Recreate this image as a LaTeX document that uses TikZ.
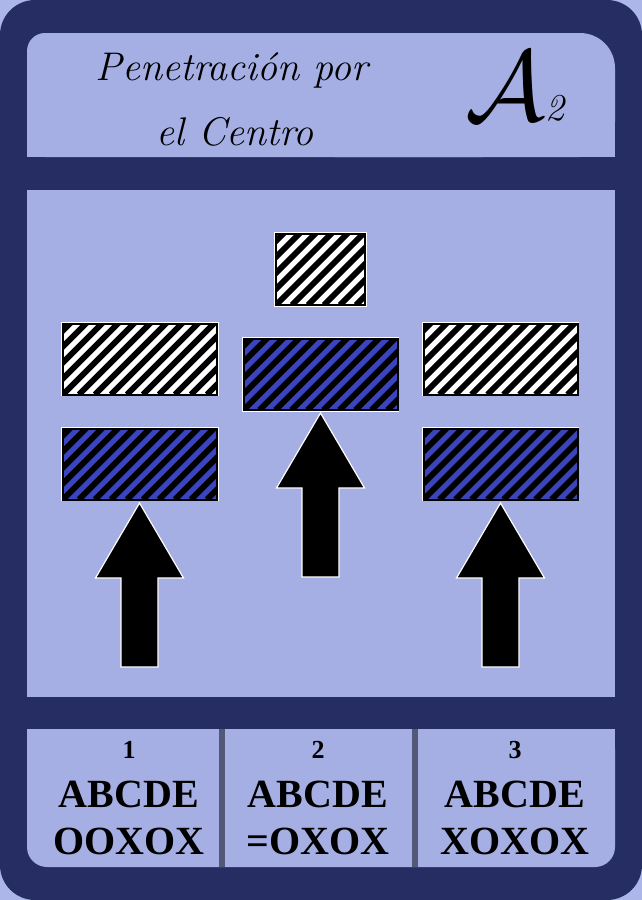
\documentclass[tikz,border=0pt]{standalone}
\usepackage{fontspec}
\usepackage{tikz}
\usetikzlibrary{positioning,calc}
\newfontfamily\cardfont{Liberation Serif}
\definecolor{cardnavy}{RGB}{38,45,98}
\definecolor{cardlight}{RGB}{172,182,232}
\definecolor{panelblue}{RGB}{165,175,228}
\definecolor{sepgray}{RGB}{84,88,120}
\definecolor{stripeblue}{RGB}{58,68,190}

\begin{document}
\begin{tikzpicture}[
    x=1pt, y=-1pt,
    hatch/.style={draw=black, line width=2pt, inner sep=0pt,
        preaction={draw=white, line width=3.6pt},
        path picture={\foreach \i in {-6,...,11}
            \draw[black, line width=5.8pt]
              ([xshift=\i*16pt]path picture bounding box.south west) -- ++(100pt,100pt);}},
    whitehatch/.style={hatch, fill=white},
    bluehatch/.style={hatch, fill=stripeblue},
    wide/.style={minimum width=154pt, minimum height=71pt},
    title/.style={font=\fontsize{40}{48}\selectfont\itshape, inner sep=0pt, anchor=base},
    num/.style={font=\cardfont\bfseries\fontsize{26}{26}\selectfont, inner sep=0pt, anchor=base},
    letters/.style={font=\cardfont\bfseries\fontsize{40}{40}\selectfont, inner sep=0pt, anchor=base},
    bigarrow/.pic={\draw[draw=white, line width=1.2pt, fill=black, line join=miter]
        (-18.5,0) -- (-18.5,-89) -- (-44,-89) -- (0,-164) -- (44,-89)
        -- (18.5,-89) -- (18.5,0) -- cycle;}
]
\useasboundingbox (0,0) rectangle (642,900);
% card frame
\fill[cardlight] (0,0) rectangle (642,900);
\fill[cardnavy, rounded corners=35] (0,0) rectangle (642,900);
% title panel
\fill[panelblue, rounded corners=18] (27,33) rectangle (500,157);
\fill[panelblue, rounded corners=35] (300,33) rectangle (615,157);
\fill[panelblue] (27,100) rectangle (615,157);
% field
\fill[panelblue] (27,190) rectangle (615,697);
% bottom cells
\fill[panelblue, rounded corners=20] (27,729) rectangle (615,867);
\fill[panelblue] (27,729) rectangle (615,800);
\fill[sepgray] (219,729) rectangle (225,867);
\fill[sepgray] (412,729) rectangle (418,867);

\node[title] (title1) at (232,80) {Penetración por};
\node[title] (title2) at (235,145) {el Centro};
\node[anchor=base, inner sep=0pt] (code) at (515,120)
    {\scalebox{10}{$\mathcal{A}$}\kern1pt{\fontsize{38}{38}\selectfont\itshape 2}};

\node[whitehatch, minimum width=89pt, minimum height=71pt] (topW) at (320.5,269.5) {};
\node[bluehatch, wide, below=32pt of topW] (midB) {};
\node[whitehatch, wide] (leftW) at (140,359) {};
\node[bluehatch, wide, below=32pt of leftW] (leftB) {};
\node[whitehatch, wide] (rightW) at (500.5,359) {};
\node[bluehatch, wide, below=32pt of rightW] (rightB) {};

\pic at (139.5,667) {bigarrow};
\pic at (320.5,577) {bigarrow};
\pic at (500.5,667) {bigarrow};

\foreach \cx/\dig/\seq [count=\k] in {129/1/{OOXOX}, 318/2/{=OXOX}, 515/3/{XOXOX}} {
  \node[num] (num\k) at (\cx,758) {\dig};
  \node[letters] (abc\k) at (\cx,807) {ABCDE};
  \node[letters] (seq\k) at (\cx,854) {\seq};
}
\end{tikzpicture}
\end{document}
